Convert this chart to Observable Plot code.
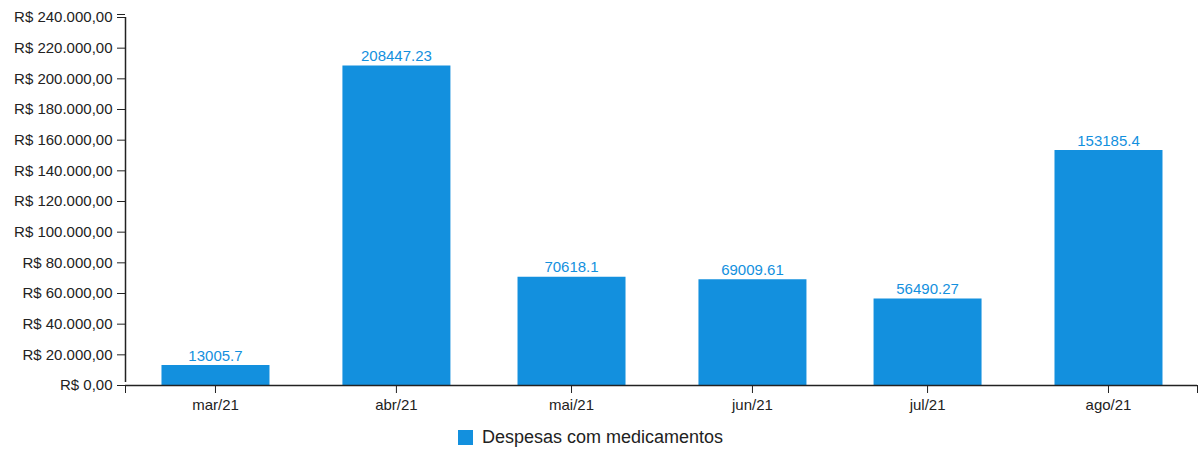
<!DOCTYPE html>
<html>
<head>
<meta charset="utf-8">
<script src="https://cdn.jsdelivr.net/npm/d3@7"></script>
<script src="https://cdn.jsdelivr.net/npm/@observablehq/plot@0.6"></script>
<style>
  html, body { margin: 0; padding: 0; background: #fff; }
  body { width: 1199px; height: 450px; overflow: hidden; font-family: "Liberation Sans", Arial, sans-serif; }
  #legend { display: flex; align-items: center; margin-left: 458px; margin-top: 13px; height: 18px; color: #222; font-size: 18px; }
  #legend .sw { width: 15px; height: 15px; background: #1390de; margin-right: 9px; }
</style>
</head>
<body>
<div id="chart"></div>
<div id="legend"><span class="sw"></span><span>Despesas com medicamentos</span></div>
<script>
// Data
const months = [
  new Date(Date.UTC(2021, 2, 1)),
  new Date(Date.UTC(2021, 3, 1)),
  new Date(Date.UTC(2021, 4, 1)),
  new Date(Date.UTC(2021, 5, 1)),
  new Date(Date.UTC(2021, 6, 1)),
  new Date(Date.UTC(2021, 7, 1))
];
const monthLabels = ["mar/21", "abr/21", "mai/21", "jun/21", "jul/21", "ago/21"];
const values = [13005.7, 208447.23, 70618.1, 69009.61, 56490.27, 153185.4];
const yTicks = [0, 20000, 40000, 60000, 80000, 100000, 120000, 140000, 160000, 180000, 200000, 220000, 240000];
const seriesName = "Despesas com medicamentos";

const xDomain = [new Date(Date.UTC(2021, 1, 13, 14)), new Date(Date.UTC(2021, 7, 16, 6))];
const yDomain = [0, 240000];

const color = "#1390de";
const ink = "#222";

const data = months.map((d, i) => ({date: d, label: monthLabels[i], value: values[i]}));

const locale = d3.formatLocale({decimal: ",", thousands: ".", grouping: [3], currency: ["R$ ", ""]});
const fmtBRL = locale.format("$,.2f");

const chart = Plot.plot({
  width: 1199,
  height: 415,
  marginLeft: 125,
  marginRight: 2,
  marginTop: 17,
  marginBottom: 30,
  style: {fontFamily: '"Liberation Sans", Arial, sans-serif', fontSize: "15px", color: ink, background: "#fff"},
  x: {type: "utc", domain: xDomain},
  y: {domain: yDomain},
  marks: [
    Plot.ruleX(data, {x: "date", y1: 0, y2: "value", stroke: color, strokeWidth: 108}),
    Plot.text(data, {x: "date", y: "value", text: d => String(d.value), dy: -5, lineAnchor: "bottom", fill: color, fontSize: 15}),
    Plot.axisY({ticks: yTicks, tickFormat: fmtBRL, tickSize: 8, tickPadding: 5, label: null, stroke: ink, fill: ink, fontSize: 15}),
    Plot.axisY({ticks: [240000], tickFormat: () => "", tickSize: 8, label: null, stroke: ink, dy: -3}),
    Plot.axisX({ticks: months, tickFormat: (d, i) => monthLabels[i], tickSize: 8, tickPadding: 6, label: null, stroke: ink, fill: ink, fontSize: 15}),
    Plot.axisX({ticks: xDomain, tickFormat: () => "", tickSize: 8, label: null, stroke: ink}),
    Plot.ruleX([xDomain[0]], {y1: 0, y2: 240000, stroke: ink, strokeWidth: 1.5, insetTop: -3}),
    Plot.ruleY([0], {stroke: ink, strokeWidth: 1.5})
  ]
});
document.getElementById("chart").append(chart);
</script>
</body>
</html>
